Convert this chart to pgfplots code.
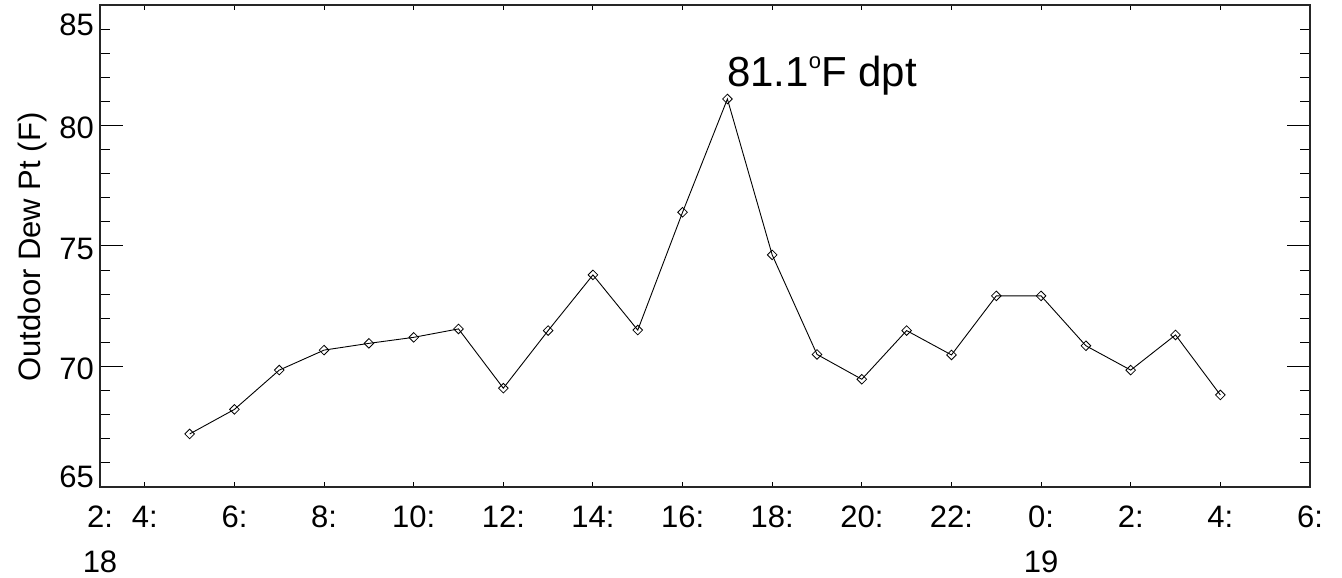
\documentclass[border=0pt]{standalone}
\usepackage{pgfplots}
\pgfplotsset{compat=1.18}
\usepackage{fontspec}
\setmainfont{Liberation Sans}
\pgfplotstableread{
hour dpt
5  67.20
6  68.22
7  69.85
8  70.68
9  70.96
10 71.21
11 71.56
12 69.10
13 71.49
14 73.80
15 71.51
16 76.40
17 81.10
18 74.63
19 70.50
20 69.47
21 71.49
22 70.48
23 72.93
24 72.93
25 70.86
26 69.85
27 71.31
28 68.82
}\dewtable
\begin{document}
\begin{tikzpicture}
\begin{axis}[
  at={(100pt,91pt)}, anchor=south west,
  scale only axis, width=1210pt, height=482pt,
  xmin=3, xmax=30, ymin=65, ymax=85,
  axis line style={line width=1.2pt, black!85},
  tick pos=both, tick align=inside,
  xtick={3,4,6,8,10,12,14,16,18,20,22,24,26,28,30},
  xticklabels={2:,4:,6:,8:,10:,12:,14:,16:,18:,20:,22:,0:,2:,4:,6:},
  x tick label style={font=\fontsize{31}{37}\selectfont, anchor=base, inner sep=0pt, yshift=-41pt},
  xtick style={/pgfplots/major tick length=5pt, line width=1pt, black},
  ytick={65,70,75,80,85},
  yticklabels={,70,75,80,},
  minor y tick num=4,
  major tick length=23pt, minor tick length=10pt,
  ytick style={line width=1pt, black},
  y tick label style={font=\fontsize{31}{37}\selectfont, anchor=east, inner sep=0pt, xshift=-6pt, yshift=-2.5pt},
  clip=false,
]
\addplot[black, line width=0.9pt, mark=square, mark size=3.4pt,
  mark options={rotate=45, solid, line width=0.8pt, fill=white}] table[x=hour, y=dpt] {\dewtable};
\node[anchor=base west, inner sep=0pt, font=\fontsize{42}{50}\selectfont] at (axis cs:16.99,81.6)
  {81.1\raisebox{18pt}{\fontsize{22}{22}\selectfont o}F dpt};
\node[anchor=east, inner sep=0pt, xshift=-6pt, yshift=10pt, font=\fontsize{31}{37}\selectfont] at (rel axis cs:0,0) {65};
\node[anchor=east, inner sep=0pt, xshift=-6pt, yshift=-20pt, font=\fontsize{31}{37}\selectfont] at (rel axis cs:0,1) {85};
\node[anchor=base, inner sep=0pt, yshift=-86pt, font=\fontsize{31}{37}\selectfont] at (axis cs:3,65) {18};
\node[anchor=base, inner sep=0pt, yshift=-86pt, font=\fontsize{31}{37}\selectfont] at (axis cs:24,65) {19};
\end{axis}
\node[rotate=90, anchor=base, inner sep=0pt, font=\fontsize{31}{37}\selectfont] at (40pt,331pt) {Outdoor Dew Pt (F)};
\pgfresetboundingbox
\path[use as bounding box] (0,0) rectangle (1342pt,578pt);
\end{tikzpicture}
\end{document}
